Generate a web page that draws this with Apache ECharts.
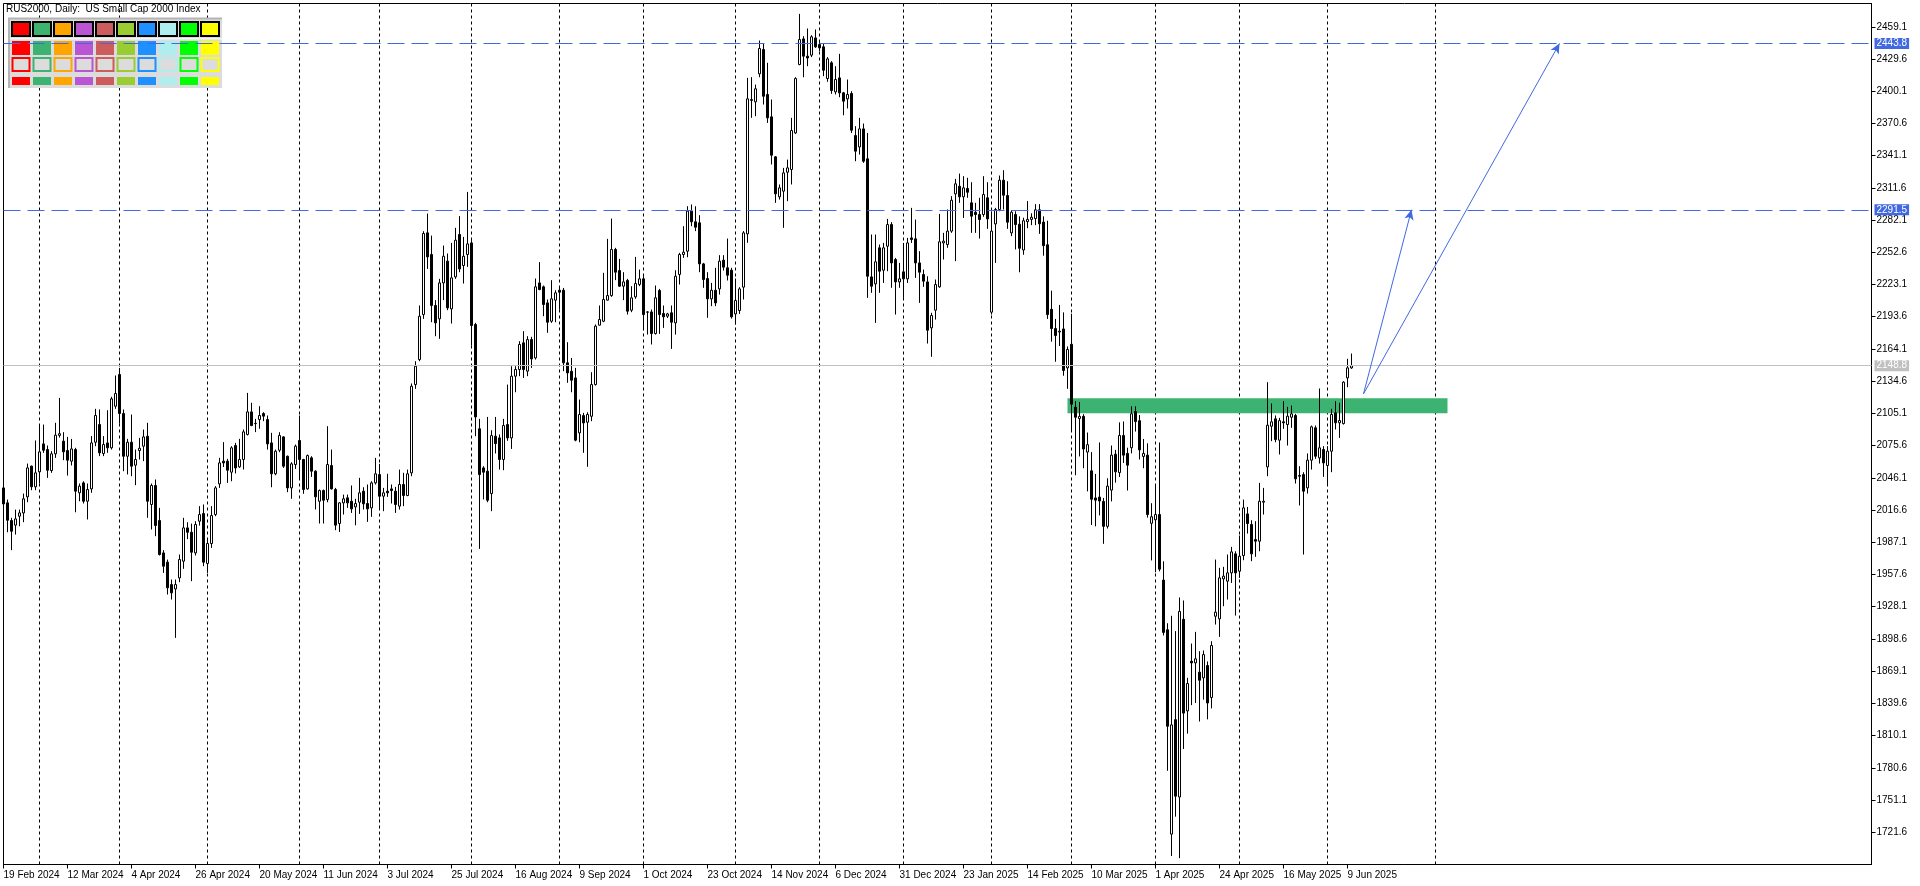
<!DOCTYPE html>
<html><head><meta charset="utf-8">
<script src="https://cdn.jsdelivr.net/npm/echarts@6.0.0/dist/echarts.min.js"></script>
<style>html,body{margin:0;padding:0;background:#fff;overflow:hidden}#chart{width:1920px;height:886px}</style>
</head><body><div id="chart"></div>
<script>
// ---- data (daily OHLC, RUS2000) ----
const open = [
2036.9,2023.2,2007.0,2002.8,2011.0,2014.0,2028.7,2056.8,2037.9,2051.6,
2077.2,2072.0,2052.8,2068.1,2085.0,2079.7,2071.1,2061.4,2072.0,2032.4,
2041.5,2024.7,2036.0,2078.7,2094.9,2068.4,2078.1,2073.6,2111.7,2140.7,
2105.0,2065.9,2078.7,2057.7,2071.1,2075.1,2084.2,2021.7,2039.1,2007.0,
1977.4,1968.9,1948.4,1944.4,1954.5,1969.8,2000.3,1996.3,1977.4,2006.4,
2013.4,1967.7,1986.0,2012.5,2040.6,2061.4,2061.4,2051.3,2075.7,2056.2,
2062.9,2085.8,2106.5,2096.0,2099.5,2105.0,2099.5,2078.1,2049.8,2071.4,
2083.6,2065.9,2036.9,2058.3,2080.3,2062.9,2036.0,2064.4,2052.2,2024.7,
2034.5,2026.3,2057.4,2035.4,2004.3,2023.2,2027.8,2024.7,2019.5,2023.8,
2033.9,2022.6,2018.6,2041.5,2049.1,2029.3,2033.9,2036.0,2033.9,2020.2,
2040.0,2029.9,2050.7,2131.5,2154.4,2195.6,2270.4,2250.6,2203.9,2191.7,
2224.6,2244.5,2200.8,2230.1,2268.9,2240.5,2250.6,2261.2,2186.5,2091.0,
2055.2,2052.2,2031.7,2084.2,2082.7,2062.9,2094.9,2082.7,2139.2,2145.3,
2169.7,2143.8,2172.7,2155.9,2224.6,2221.0,2206.3,2189.5,2208.8,2217.9,
2217.9,2151.4,2143.7,2137.6,2087.3,2103.1,2097.0,2102.5,2131.5,2185.9,
2189.5,2208.8,2213.0,2255.2,2235.9,2221.6,2226.8,2199.6,2211.8,2223.1,
2228.3,2198.0,2198.0,2178.2,2217.6,2196.5,2194.1,2197.2,2188.0,2232.3,
2250.6,2253.6,2290.3,2280.5,2279.6,2242.0,2228.6,2210.0,2217.9,2219.1,
2245.4,2238.4,2236.2,2196.2,2199.3,2220.7,2269.5,2391.6,2390.4,2416.0,
2438.3,2397.1,2376.6,2340.0,2303.4,2308.6,2325.9,2328.4,2361.9,2424.5,
2448.0,2432.2,2433.1,2448.9,2442.8,2440.7,2411.7,2426.1,2399.5,2412.3,
2398.6,2393.1,2398.0,2359.5,2349.1,2365.6,2338.2,2230.1,2223.7,2256.7,
2236.2,2258.2,2278.0,2246.0,2225.5,2234.7,2228.3,2265.8,2264.9,2242.9,
2232.3,2225.5,2183.4,2199.6,2221.0,2261.2,2259.7,2272.0,2306.1,2313.1,
2303.4,2311.0,2297.9,2289.3,2287.2,2287.2,2302.5,2197.8,2278.6,2291.8,
2318.6,2304.6,2270.4,2287.2,2278.3,2254.7,2280.7,2282.7,2283.5,2291.5,
2280.3,2259.5,2200.4,2182.8,2179.6,2182.4,2146.8,2168.4,2110.8,2100.4,
2102.4,2069.7,2052.5,2027.7,2028.5,2024.5,2001.7,2034.9,2067.7,2050.9,
2084.9,2068.5,2073.7,2106.8,2098.4,2065.7,2066.9,2004.5,2007.7,2012.5,
1952.5,1907.0,1719.9,1824.7,1753.9,1916.6,1832.7,1878.2,1876.7,1868.2,
1863.0,1874.3,1845.0,1919.4,1917.0,1953.6,1951.5,1959.1,1976.5,1960.6,
1975.0,2013.1,2003.4,1989.6,1988.1,2023.8,2056.2,2093.4,2100.1,2080.6,
2097.4,2094.9,2101.6,2103.2,2048.2,2049.1,2036.9,2062.3,2091.9,2064.4,
2072.0,2057.4,2070.5,2105.6,2096.5,2095.8,2137.6,2146.8];
const close = [
2022.2,2007.3,1997.2,2008.5,2014.0,2026.9,2055.2,2037.9,2050.7,2069.9,
2071.4,2053.1,2068.1,2085.2,2086.5,2069.9,2062.3,2072.6,2033.9,2038.5,
2024.7,2035.4,2078.1,2103.2,2069.0,2076.6,2073.6,2118.4,2123.3,2105.0,
2065.9,2078.7,2056.8,2062.9,2073.2,2083.6,2024.7,2039.1,2002.5,1975.9,
1965.2,1945.4,1940.8,1948.4,1971.3,2000.3,1996.3,1978.0,2003.4,2012.5,
1968.9,1986.0,2011.6,2036.9,2059.8,2059.8,2053.1,2073.6,2055.2,2062.9,
2088.2,2106.5,2094.0,2095.8,2103.2,2102.6,2077.2,2049.8,2070.5,2084.9,
2056.8,2036.9,2058.9,2075.1,2062.9,2035.4,2066.5,2052.2,2028.7,2034.5,
2025.6,2058.3,2036.0,2002.8,2023.2,2026.9,2023.2,2017.7,2022.6,2032.4,
2022.3,2017.7,2041.5,2049.8,2029.3,2032.4,2032.4,2034.5,2021.7,2040.0,
2029.9,2049.8,2130.0,2148.3,2194.1,2269.8,2248.4,2203.9,2188.0,2224.6,
2249.0,2201.7,2229.2,2263.7,2237.4,2249.0,2260.3,2185.6,2101.9,2049.1,
2051.3,2025.6,2084.8,2077.5,2062.9,2094.0,2082.7,2139.2,2145.3,2168.2,
2145.3,2172.7,2155.0,2221.0,2218.5,2204.8,2188.6,2210.0,2215.5,2216.1,
2151.4,2142.2,2135.5,2080.6,2104.1,2096.4,2104.1,2131.5,2185.0,2191.1,
2209.4,2213.0,2255.2,2234.4,2221.6,2225.5,2198.7,2210.9,2224.0,2228.3,
2195.6,2197.8,2178.2,2210.9,2195.6,2193.5,2196.2,2188.6,2230.7,2250.6,
2252.7,2290.3,2280.5,2275.6,2242.0,2227.7,2210.0,2217.9,2206.3,2244.5,
2239.0,2231.6,2193.5,2208.5,2219.1,2270.4,2393.1,2392.5,2402.3,2439.2,
2395.5,2375.7,2341.5,2306.1,2311.6,2325.3,2329.9,2364.1,2411.7,2447.4,
2432.2,2430.6,2449.9,2440.7,2439.8,2419.3,2429.7,2400.7,2410.8,2398.6,
2391.0,2397.1,2364.4,2345.2,2365.6,2336.0,2230.7,2221.6,2243.9,2235.3,
2256.7,2278.0,2242.9,2225.5,2228.3,2228.3,2261.2,2264.3,2242.9,2234.4,
2226.2,2181.3,2194.7,2223.1,2262.2,2262.8,2272.0,2300.3,2315.3,2303.4,
2311.6,2307.6,2285.7,2287.2,2282.6,2305.5,2283.2,2272.0,2291.8,2318.6,
2304.9,2280.2,2289.3,2278.0,2256.3,2281.5,2282.7,2284.7,2291.5,2278.7,
2258.7,2195.6,2182.8,2176.4,2180.4,2144.4,2163.6,2113.6,2101.6,2102.4,
2072.5,2076.5,2026.5,2025.7,2024.9,2001.7,2038.5,2066.9,2051.7,2084.9,
2066.9,2057.7,2104.8,2097.6,2071.7,2068.5,2012.5,2010.5,2012.5,1962.5,
1904.6,1818.7,1819.9,1754.7,1923.8,1830.7,1857.8,1876.7,1880.4,1860.8,
1884.3,1840.0,1892.6,1923.1,1954.5,1956.1,1959.1,1978.3,1959.1,1974.4,
2018.6,2004.3,1976.5,1988.1,2024.7,2024.7,2094.3,2097.4,2081.2,2098.5,
2096.5,2102.6,2104.7,2045.2,2047.6,2033.9,2062.3,2092.8,2065.9,2073.6,
2059.8,2070.5,2104.1,2096.5,2098.6,2133.7,2146.8,2148.8];
const low = [
2020.5,1996.3,1979.9,1994.2,2001.8,2005.5,2023.8,2034.8,2034.8,2040.9,
2069.0,2046.1,2050.7,2064.4,2083.0,2062.3,2048.2,2057.4,2014.6,2024.7,
2022.6,2008.0,2032.4,2075.1,2066.0,2066.0,2069.0,2072.0,2109.3,2095.8,
2052.2,2049.2,2047.6,2039.4,2062.9,2061.4,2009.5,1998.8,1992.7,1975.0,
1959.1,1939.3,1934.7,1899.6,1950.6,1962.8,1990.0,1951.5,1975.0,2002.4,
1965.2,1959.1,1982.0,2011.0,2036.9,2056.0,2041.5,2043.0,2050.1,2055.2,
2053.7,2084.9,2093.4,2088.0,2091.0,2098.0,2072.0,2037.5,2048.5,2069.6,
2055.2,2033.0,2026.9,2054.3,2045.2,2031.5,2035.4,2047.0,2017.1,2004.3,
2004.3,2023.8,2035.4,1998.2,1996.6,2012.5,2018.6,2014.0,2002.7,2013.1,
2017.1,2005.8,2010.4,2040.0,2018.6,2015.6,2028.7,2022.6,2014.0,2017.1,
2020.2,2029.3,2047.6,2127.6,2152.9,2191.7,2237.4,2188.6,2175.8,2173.4,
2208.8,2199.6,2187.4,2228.3,2234.4,2224.0,2239.3,2167.2,2084.2,1981.1,
2026.3,2023.8,2015.6,2068.4,2053.7,2053.1,2080.0,2072.6,2124.5,2139.2,
2137.6,2139.2,2146.8,2154.4,2217.9,2194.1,2178.9,2188.0,2188.6,2200.2,
2143.8,2133.1,2124.5,2079.6,2078.7,2069.0,2056.2,2098.0,2130.6,2185.6,
2188.6,2208.5,2211.8,2227.1,2221.0,2208.8,2195.6,2197.8,2210.0,2221.6,
2181.3,2177.3,2168.2,2177.3,2177.9,2183.4,2192.5,2164.2,2177.3,2223.1,
2247.5,2248.1,2276.5,2272.0,2234.4,2220.1,2192.6,2203.3,2203.3,2213.9,
2235.9,2226.8,2191.9,2186.5,2196.2,2209.4,2261.3,2375.7,2377.2,2412.9,
2387.9,2371.1,2333.0,2297.9,2300.9,2275.0,2299.4,2314.7,2361.0,2423.9,
2412.9,2423.0,2431.3,2439.8,2436.7,2413.9,2408.7,2397.7,2397.1,2394.6,
2378.1,2384.3,2361.9,2336.0,2342.1,2334.5,2210.9,2215.5,2188.0,2215.5,
2224.6,2235.3,2220.1,2195.6,2220.1,2210.9,2224.6,2261.2,2229.2,2206.3,
2221.0,2169.1,2156.9,2191.0,2220.1,2246.0,2256.7,2270.4,2244.5,2297.9,
2284.1,2302.5,2270.4,2270.4,2265.2,2285.1,2274.1,2195.6,2242.9,2290.2,
2291.8,2274.1,2267.4,2255.2,2234.3,2250.3,2274.7,2277.5,2277.5,2269.5,
2249.5,2191.6,2170.8,2152.4,2166.8,2139.6,2127.6,2089.6,2048.5,2065.7,
2054.9,2033.7,2002.9,2001.7,2011.7,1985.7,1999.7,2024.5,2041.7,2046.9,
2059.7,2034.5,2068.5,2088.5,2062.9,2054.9,2009.7,1970.5,1959.7,1960.5,
1901.8,1777.9,1699.9,1735.9,1697.9,1797.9,1811.9,1838.0,1840.0,1823.0,
1843.0,1825.0,1835.0,1911.8,1900.5,1928.6,1934.7,1949.9,1920.0,1954.5,
1970.7,1995.1,1969.8,1973.8,1978.9,2012.5,2047.6,2079.7,2078.7,2067.5,
2091.0,2075.7,2091.9,2040.9,2020.8,1975.9,2031.7,2053.7,2063.5,2059.2,
2047.0,2040.0,2051.3,2090.4,2082.7,2094.9,2129.1,2145.9];
const high = [
2038.5,2026.2,2009.5,2017.0,2017.0,2031.7,2059.2,2057.4,2080.3,2094.9,
2094.9,2075.7,2070.5,2096.5,2119.3,2087.9,2083.6,2081.8,2073.6,2040.9,
2043.0,2040.9,2084.3,2109.3,2108.7,2084.3,2108.0,2120.3,2139.8,2146.8,
2108.7,2081.8,2104.1,2072.0,2082.7,2090.3,2096.5,2040.9,2044.6,2018.6,
1979.9,1971.3,1953.0,1953.0,1975.9,2009.5,2005.5,2004.2,2006.4,2020.2,
2021.7,1991.1,2020.2,2038.5,2064.4,2078.8,2063.5,2075.1,2078.1,2081.8,
2090.4,2123.9,2114.8,2100.1,2111.7,2106.2,2103.2,2087.3,2072.0,2087.9,
2084.2,2066.5,2060.4,2076.6,2103.2,2063.5,2067.5,2065.9,2053.1,2035.4,
2035.4,2093.4,2072.0,2036.9,2023.8,2030.8,2030.8,2039.1,2026.9,2046.1,
2037.5,2040.0,2043.0,2064.4,2058.9,2036.9,2049.8,2040.0,2037.8,2053.7,
2050.7,2053.7,2132.5,2152.9,2203.9,2271.9,2288.1,2267.9,2208.8,2228.3,
2258.8,2251.5,2261.2,2275.0,2285.7,2266.7,2307.9,2263.7,2188.0,2100.1,
2056.8,2101.9,2089.7,2101.9,2085.8,2100.1,2131.5,2148.3,2148.3,2171.2,
2180.4,2175.8,2175.2,2228.6,2243.6,2222.2,2209.4,2227.1,2217.9,2220.0,
2220.0,2170.3,2155.9,2146.8,2117.8,2105.6,2106.2,2142.8,2186.5,2203.9,
2233.8,2264.9,2283.5,2256.7,2246.6,2234.4,2228.3,2221.6,2248.4,2236.8,
2230.7,2198.7,2200.2,2222.2,2219.1,2203.9,2197.2,2203.9,2236.2,2252.1,
2276.5,2294.8,2296.4,2294.8,2286.6,2242.9,2234.4,2224.6,2238.4,2250.0,
2250.0,2265.2,2238.4,2228.6,2220.7,2272.0,2412.3,2413.0,2406.2,2446.5,
2443.5,2426.1,2392.5,2340.6,2314.7,2329.9,2337.5,2375.7,2412.9,2470.9,
2450.5,2457.5,2451.4,2456.6,2446.5,2443.5,2431.3,2427.6,2423.0,2434.3,
2399.5,2410.8,2400.1,2368.1,2375.7,2370.5,2361.9,2268.9,2268.9,2259.7,
2261.2,2283.2,2280.2,2247.5,2242.9,2261.2,2265.8,2293.3,2282.6,2253.6,
2236.8,2230.7,2197.2,2227.7,2287.8,2270.4,2291.8,2304.0,2319.8,2324.7,
2322.3,2320.8,2316.8,2297.9,2302.5,2322.3,2316.8,2290.2,2293.3,2322.9,
2327.8,2317.7,2291.1,2290.2,2285.5,2284.3,2299.5,2288.3,2296.7,2296.7,
2285.5,2281.5,2217.5,2191.6,2204.4,2197.6,2166.4,2196.4,2116.4,2115.6,
2104.4,2087.6,2069.7,2049.7,2078.5,2027.7,2045.7,2075.7,2071.7,2096.9,
2097.7,2073.7,2111.6,2111.6,2103.6,2081.7,2077.7,2022.9,2039.7,2078.5,
1969.7,1913.0,1919.8,1905.8,1936.6,1933.8,1863.0,1894.4,1905.1,1887.4,
1888.0,1878.0,1896.5,1971.3,1963.7,1964.6,1975.9,1982.9,1978.9,1993.3,
2026.2,2019.5,2007.3,2006.4,2041.5,2036.9,2133.7,2114.2,2103.2,2101.0,
2116.3,2111.1,2112.3,2104.7,2056.8,2051.3,2068.4,2094.0,2094.0,2127.9,
2075.1,2075.1,2109.3,2116.3,2114.8,2134.6,2155.1,2159.9];

// trading calendar
const firstDate = '2024-02-19';
const holidays = ['2024-03-29','2024-12-25','2025-01-01','2025-04-18'];
const monthNames = ['Jan','Feb','Mar','Apr','May','Jun','Jul','Aug','Sep','Oct','Nov','Dec'];
const labelEvery = 16;          // one date label every 16 bars
const totalSlots = 468;         // bars that fit the window incl. empty future space

// price axis
const yMin = 1692.1, yMax = 2480.4, yStep = 29.5;

// drawn objects
const levelHigh = 2443.8, levelMid = 2291.5, lastPrice = 2148.8;
const zoneTop = 2119.0, zoneBottom = 2105.2, zoneStart = 266, zoneEnd = 361;
const arrowFrom = [340, 2123.0], arrowTo1 = [352, 2291.5], arrowTo2 = [389, 2443.8];
const titleText = 'RUS2000, Daily:  US Small Cap 2000 Index';
const panelColors = ['#FF0000','#3CB371','#FFA500','#BA55D3','#CD5C5C','#9ACD32','#1E90FF','#AFEEEE','#00FF00','#FFFF00'];

// ---- build ----
const dates = [];
let t = Date.parse(firstDate + 'T00:00:00Z');
while (dates.length < open.length) {
  const d = new Date(t), w = d.getUTCDay(), iso = d.toISOString().slice(0, 10);
  if (w !== 0 && w !== 6 && holidays.indexOf(iso) < 0) dates.push(d);
  t += 864e5;
}
const nReal = dates.length;
while (dates.length < totalSlots) { dates.push(new Date(t)); t += 864e5; }
const fmt = d => d.getUTCDate() + ' ' + monthNames[d.getUTCMonth()] + ' ' + d.getUTCFullYear();
const categories = dates.map(fmt);
const monthStarts = new Set();
let futureAdded = false;
for (let i = 1; i < dates.length; i++) {
  if (dates[i].getUTCMonth() !== dates[i - 1].getUTCMonth()) {
    if (i < nReal) monthStarts.add(i);
    else if (!futureAdded) { monthStarts.add(i); futureAdded = true; }
  }
}
const ohlc = open.map((o, i) => [o, close[i], low[i], high[i]]);
const showLabel = i => i < nReal && i % labelEvery === 0;

const FONT = '"Liberation Sans", Arial, sans-serif';
const graphics = [];
graphics.push({type:'text', x:6, y:4, z:10, style:{text:titleText, font:'10px ' + FONT, fill:'#000'}});
graphics.push({type:'rect', z:1, shape:{x:8, y:18, width:214, height:70}, style:{fill:'#dcdcdc'}});
graphics.push({type:'rect', z:1, shape:{x:8, y:17.5, width:214, height:2}, style:{fill:'#b4b4b4'}});
graphics.push({type:'rect', z:1, shape:{x:8, y:18, width:2, height:70}, style:{fill:'#b4b4b4'}});
graphics.push({type:'rect', z:1, shape:{x:10, y:38, width:212, height:1.5}, style:{fill:'#f4f4f4'}});
panelColors.forEach((c, k) => {
  const x = 12 + 21 * k;
  graphics.push({type:'rect', z:2, shape:{x:x, y:22, width:18, height:14}, style:{fill:c, stroke:'#000', lineWidth:2}});
  graphics.push({type:'rect', z:2, shape:{x:x, y:41, width:18, height:14}, style:{fill:c}});
  graphics.push({type:'rect', z:2, shape:{x:x + 0.5, y:58, width:17, height:13}, style:{fill:'#dcdcdc', stroke:c, lineWidth:2}});
  graphics.push({type:'rect', z:2, shape:{x:x, y:77, width:18, height:8}, style:{fill:c}});
});

const levelLabel = (v, bg) => ({show:true, position:'end', distance:3, formatter:v.toFixed(1), color:'#fff',
  backgroundColor:bg, padding:[1,2,0,2], fontSize:10, lineHeight:10, fontFamily:FONT});

const chart = echarts.init(document.getElementById('chart'), null, {renderer:'canvas'});
chart.setOption({
  animation:false,
  backgroundColor:'#ffffff',
  grid:{left:3.5, right:48.5, top:3.5, bottom:21.5, show:true, borderColor:'#000', borderWidth:1, backgroundColor:'rgba(0,0,0,0)'},
  xAxis:{type:'category', data:categories, boundaryGap:false,
    axisLine:{show:true, lineStyle:{color:'#000', width:1}},
    axisTick:{show:true, interval:showLabel, length:4, lineStyle:{color:'#000'}},
    axisLabel:{interval:showLabel, align:'left', margin:6, color:'#000', fontSize:10, fontFamily:FONT, hideOverlap:false},
    splitLine:{show:true, interval:i => monthStarts.has(i), lineStyle:{color:'#000', type:[3,3], width:1}}},
  yAxis:{type:'value', position:'right', min:yMin, max:yMax, interval:yStep,
    axisLine:{show:true, lineStyle:{color:'#000'}},
    axisTick:{show:true, length:4, lineStyle:{color:'#000'}},
    axisLabel:{color:'#000', fontSize:10, fontFamily:FONT, margin:5, showMinLabel:false, showMaxLabel:false,
      formatter:v => Number(v).toFixed(1)},
    splitLine:{show:false}},
  graphic:{elements:graphics},
  series:[
    {type:'line', data:[], z:1, silent:true,
      markArea:{silent:true, itemStyle:{color:'#3CB371', opacity:1},
        data:[[{coord:[zoneStart, zoneTop]}, {coord:[zoneEnd, zoneBottom]}]]}},
    {type:'candlestick', data:ohlc, barWidth:2, z:2, silent:true,
      itemStyle:{color:'#ffffff', color0:'#000000', borderColor:'#000000', borderColor0:'#000000', borderWidth:1}},
    {type:'line', data:[], z:5, silent:true,
      markLine:{silent:true, symbol:'none', animation:false,
        data:[
          {yAxis:levelHigh, lineStyle:{color:'#4169E1', type:[17,7], width:1}, label:levelLabel(levelHigh, '#4169E1')},
          {yAxis:levelMid, lineStyle:{color:'#4169E1', type:[17,7], width:1}, label:levelLabel(levelMid, '#4169E1')},
          {yAxis:lastPrice, lineStyle:{color:'#C0C0C0', type:'solid', width:1}, label:levelLabel(lastPrice, '#C0C0C0')}
        ]}},
    {type:'line', data:[], z:6, silent:true,
      markLine:{silent:true, symbol:['none','arrow'], symbolSize:[7,10], animation:false,
        lineStyle:{color:'#4169E1', type:'solid', width:1}, label:{show:false},
        data:[[{coord:arrowFrom}, {coord:arrowTo1}], [{coord:arrowFrom}, {coord:arrowTo2}]]}}
  ]
});
</script></body></html>
